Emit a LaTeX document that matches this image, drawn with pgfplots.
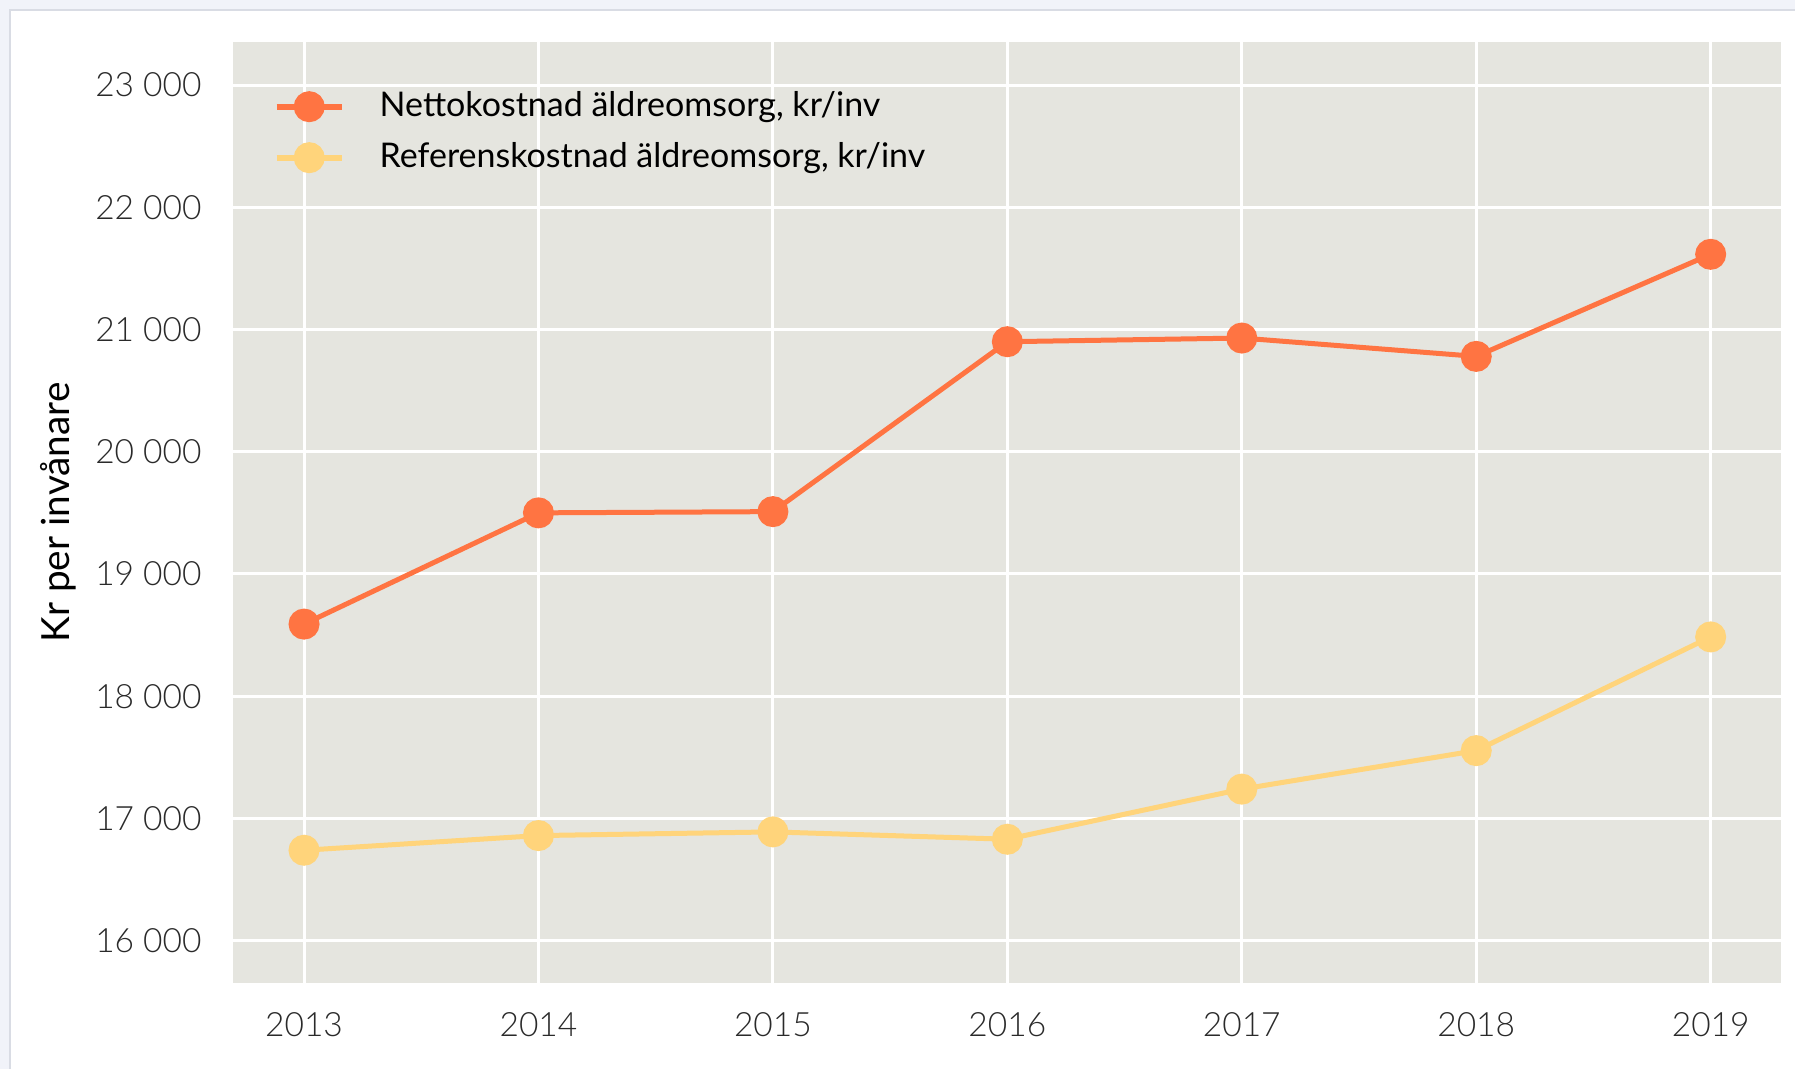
\documentclass[border=0pt]{standalone}
\usepackage{fontspec}
\setmainfont{Lato}
\newfontfamily\lightfont{Lato Light}
\usepackage{pgfplots}
\pgfplotsset{compat=1.18}
\definecolor{netto}{HTML}{FF7442}
\definecolor{refc}{HTML}{FFD47B}
\definecolor{plotbg}{HTML}{E5E5DF}
\definecolor{pagebg}{HTML}{F1F3F9}
\definecolor{cardline}{HTML}{D9DCE4}
\definecolor{ticktext}{HTML}{2A2A2A}
\begin{document}
\fontsize{13.3bp}{16bp}\selectfont
\begin{tikzpicture}
\useasboundingbox (0,0) rectangle (718bp,427.6bp);
\fill[pagebg] (0,0) rectangle (718bp,427.6bp);
\fill[white] (4bp,0) rectangle (718bp,423.6bp);
\draw[cardline, line width=0.5bp] (4bp,0) -- (4bp,423.6bp) -- (718bp,423.6bp);
\begin{axis}[
  at={(93.2bp,34.4bp)}, anchor=south west,
  scale only axis, width=619.2bp, height=376.4bp,
  xmin=2012.697, xmax=2019.30, ymin=15654, ymax=23352,
  scaled y ticks=false, scaled x ticks=false,
  xtick={2013,2014,2015,2016,2017,2018,2019},
  xticklabels={2013,2014,2015,2016,2017,2018,2019},
  ytick={16000,17000,18000,19000,20000,21000,22000,23000},
  yticklabels={16 000,17 000,18 000,19 000,20 000,21 000,22 000,23 000},
  axis background/.style={fill=plotbg},
  axis line style={draw=none},
  major tick length=0pt,
  tick style={draw=none},
  grid=major,
  major grid style={white, line width=1.2bp},
  xticklabel style={font=\lightfont\fontsize{13.4bp}{16bp}\selectfont, text=ticktext, inner sep=0pt, anchor=center, yshift=-16.8bp},
  yticklabel style={font=\lightfont\fontsize{13.4bp}{16bp}\selectfont, text=ticktext, inner sep=0pt, anchor=east, xshift=-12.4bp},
  ylabel={Kr per invånare},
  ylabel style={font=\fontsize{15.5bp}{18bp}\selectfont, text=black, at={(axis description cs:-0.113,0.5)}, anchor=center},
  legend style={at={(rel axis cs:0.026,0.953)}, anchor=north west, draw=none, fill=none, inner sep=0pt,
    font=\fontsize{13.6bp}{16bp}\selectfont, text=black, row sep=4.4bp,
    /tikz/every odd column/.append style={column sep=12bp}},
  legend cell align=left,
  legend image code/.code={\draw[line width=2.4bp] (0bp,0bp) -- (26bp,0bp); \fill (13bp,0bp) circle (5.2bp);},
]
\addplot[netto, line width=2bp, mark=*, mark size=5.2bp, mark options={draw=none, fill=netto}]
  coordinates {(2013,18590) (2014,19500) (2015,19510) (2016,20900) (2017,20930) (2018,20780) (2019,21615)};
\addlegendentry{Nettokostnad äldreomsorg, kr/inv}
\addplot[refc, line width=2bp, mark=*, mark size=5.2bp, mark options={draw=none, fill=refc}]
  coordinates {(2013,16740) (2014,16860) (2015,16890) (2016,16830) (2017,17240) (2018,17555) (2019,18485)};
\addlegendentry{Referenskostnad äldreomsorg, kr/inv}
\end{axis}
\end{tikzpicture}
\end{document}
